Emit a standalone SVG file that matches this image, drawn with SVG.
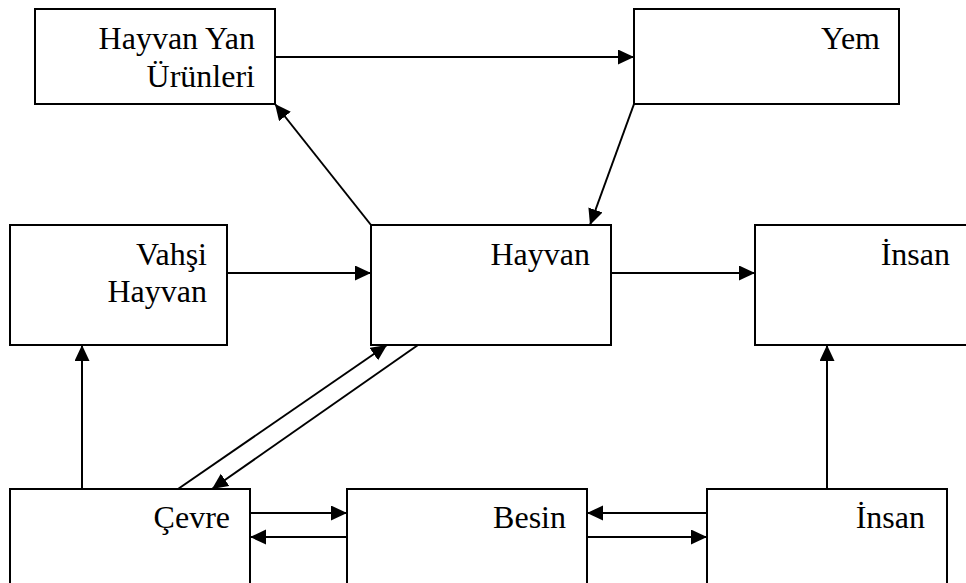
<svg xmlns="http://www.w3.org/2000/svg" width="966" height="583" viewBox="0 0 966 583">
<style>
.box{fill:#fff;stroke:#000;stroke-width:2}
.lbl{font-family:"Times New Roman",Times,"Liberation Serif","DejaVu Serif",serif;font-size:32px;fill:#000;text-anchor:end}
.c{stroke:#000;stroke-width:2;fill:none;marker-end:url(#ah)}
</style>
<defs>
<marker id="ah" markerUnits="userSpaceOnUse" markerWidth="18" markerHeight="16" refX="16" refY="7.5" orient="auto">
<path d="M0,0 L16,7.5 L0,15 Z" fill="#000"/>
</marker>
</defs>
<g id="n-yanurun"><rect class="box" x="35" y="9" width="240" height="95"/><text class="lbl" x="255" y="49">Hayvan Yan</text><text class="lbl" x="255" y="87">Ürünleri</text></g>
<g id="n-yem"><rect class="box" x="634" y="9" width="265" height="95"/><text class="lbl" x="880" y="49">Yem</text></g>
<g id="n-vahsi"><rect class="box" x="10" y="225" width="217" height="120"/><text class="lbl" x="207" y="265">Vahşi</text><text class="lbl" x="207" y="302">Hayvan</text></g>
<g id="n-hayvan"><rect class="box" x="371" y="225" width="240" height="120"/><text class="lbl" x="590" y="265">Hayvan</text></g>
<g id="n-insan1"><rect class="box" x="755" y="225" width="220" height="120"/><text class="lbl" x="950" y="265">İnsan</text></g>
<g id="n-cevre"><rect class="box" x="10" y="489" width="240" height="110"/><text class="lbl" x="230" y="528">Çevre</text></g>
<g id="n-besin"><rect class="box" x="347" y="489" width="240" height="110"/><text class="lbl" x="566" y="528">Besin</text></g>
<g id="n-insan2"><rect class="box" x="707" y="489" width="240" height="110"/><text class="lbl" x="925" y="528">İnsan</text></g>
<g id="connectors">
<path class="c" d="M275,57 L634,57"/>
<path class="c" d="M634,104 L590,225"/>
<path class="c" d="M371,225 L275,104"/>
<path class="c" d="M227,273 L371,273"/>
<path class="c" d="M611,273 L755,273"/>
<path class="c" d="M82,489 L82,345"/>
<path class="c" d="M827,489 L827,345"/>
<path class="c" d="M178,489 L387,345"/>
<path class="c" d="M418,345 L212,489"/>
<path class="c" d="M250,513 L347,513"/>
<path class="c" d="M347,537 L250,537"/>
<path class="c" d="M707,513 L587,513"/>
<path class="c" d="M587,537 L707,537"/>
</g>
</svg>
